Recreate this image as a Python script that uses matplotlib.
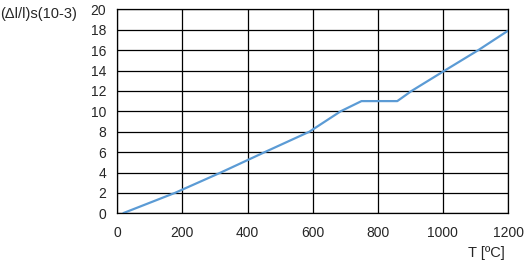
import matplotlib
matplotlib.use('Agg')
import matplotlib.pyplot as plt

# thermal expansion curve
temps = [17, 177, 318, 453, 590, 686, 750, 860, 904, 1006, 1109, 1200]
expansion = [0, 2, 4, 6, 8, 10, 11, 11, 12, 14, 16, 17.9]

x_ticks = [0, 200, 400, 600, 800, 1000, 1200]
y_ticks = [0, 2, 4, 6, 8, 10, 12, 14, 16, 18, 20]

plt.rcParams['font.family'] = ['Liberation Sans', 'DejaVu Sans']
text_col = '#262626'

fig = plt.figure(figsize=(5.32, 2.66), dpi=100, facecolor='white')
ax = fig.add_axes([117.3 / 532, 1 - 213.3 / 266, 390.7 / 532, 204 / 266])

ax.plot(temps, expansion, color='#5b9bd5', linewidth=1.6, solid_capstyle='butt')

ax.set_xlim(0, 1200)
ax.set_ylim(0, 20)
ax.set_xticks(x_ticks)
ax.set_yticks(y_ticks)
ax.tick_params(length=0, labelsize=10, colors=text_col)
ax.tick_params(axis='x', pad=9)
ax.tick_params(axis='y', pad=8)
ax.grid(True, color='black', linewidth=0.9)
for s in ax.spines.values():
    s.set_color('black')
    s.set_linewidth(0.9)

fig.text(0.5 / 532, 1 - 14 / 266, '(\u0394l/l)s(10-3)', fontsize=10.5, va='center', ha='left', color=text_col)
fig.text(505 / 532, 1 - 253 / 266, 'T [\u00baC]', fontsize=10.5, va='center', ha='right', color=text_col)

fig.savefig('out.png', dpi=100)
